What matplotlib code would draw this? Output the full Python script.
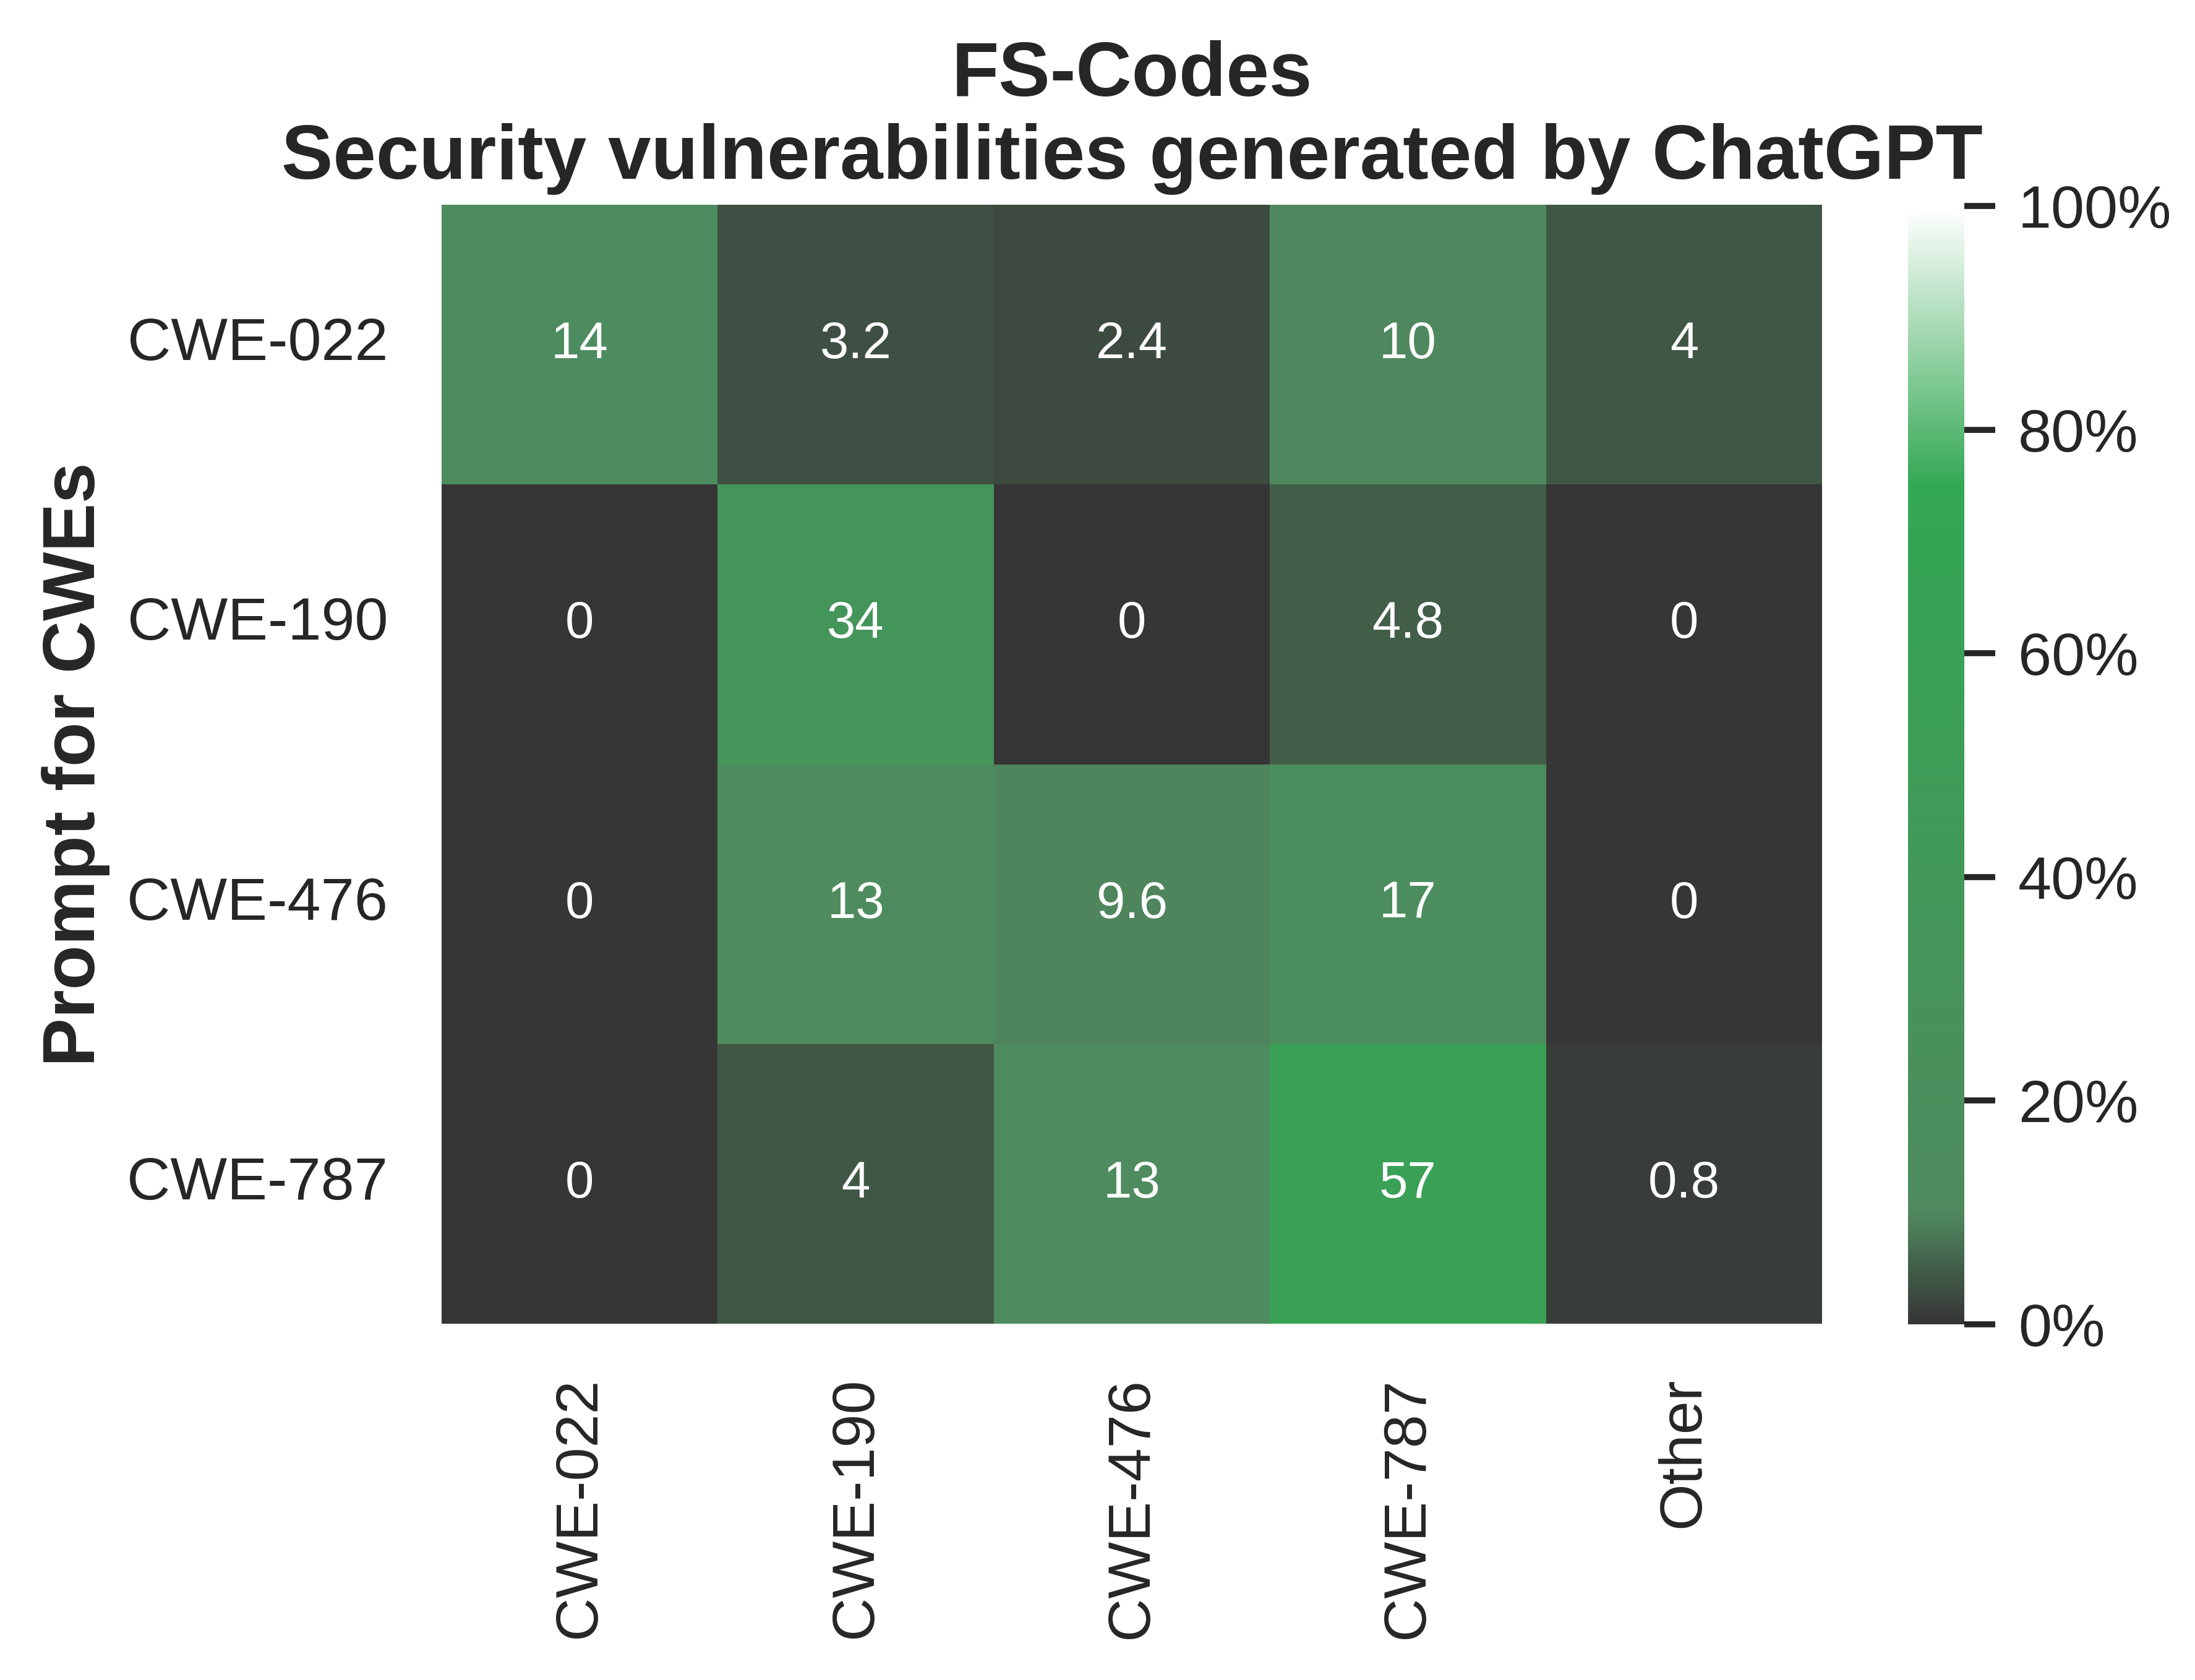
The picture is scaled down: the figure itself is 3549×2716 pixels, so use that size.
import numpy as np
import pandas as pd
import seaborn as sns
import matplotlib.pyplot as plt
from matplotlib.colors import LinearSegmentedColormap

# prompt CWE (rows) vs detected CWE (columns), in percent
prompts = ["CWE-022", "CWE-190", "CWE-476", "CWE-787"]
found = ["CWE-022", "CWE-190", "CWE-476", "CWE-787", "Other"]
row_022 = [14, 3.2, 2.4, 10, 4]
row_190 = [0, 34, 0, 4.8, 0]
row_476 = [0, 13, 9.6, 17, 0]
row_787 = [0, 4, 13, 57, 0.8]
cbar_ticks = [0, 20, 40, 60, 80, 100]

df = pd.DataFrame([row_022, row_190, row_476, row_787], index=prompts, columns=found)

sns.set_theme(style="white")
plt.rcParams['font.family'] = ['Liberation Sans', 'DejaVu Sans']
plt.rcParams['text.color'] = '#262626'
plt.rcParams['axes.labelcolor'] = '#262626'
plt.rcParams['xtick.color'] = '#262626'
plt.rcParams['ytick.color'] = '#262626'

cmap = LinearSegmentedColormap.from_list(
    "grn", [(0.0, "#363636"), (0.10, "#4f8a5f"), (0.75, "#32a852"), (1.0, "#ffffff")])

fig = plt.figure(figsize=(3549 / 500, 2716 / 500), dpi=500)
ax = fig.add_axes([0.2012, 0.2121, 0.6289, 0.666])
cax = fig.add_axes([0.8693, 0.2117, 0.0256, 0.6657])

sns.heatmap(df, ax=ax, cbar_ax=cax, cmap=cmap, vmin=0, vmax=100,
            annot=True, fmt=".2g", annot_kws={"size": 12, "color": "white"},
            cbar_kws={"format": "%.0f%%", "ticks": cbar_ticks})

ax.set_title("FS-Codes\nSecurity vulnerabilities generated by ChatGPT",
             fontsize=18, fontweight="bold", pad=6)
ax.set_ylabel("Prompt for CWEs", fontsize=17, fontweight="bold", labelpad=4)
ax.set_xlabel("")
ax.tick_params(axis="both", length=0, pad=12.5, labelsize=14)
plt.setp(ax.get_xticklabels(), rotation=90)
plt.setp(ax.get_yticklabels(), rotation=0)

cax.tick_params(axis="y", right=True, length=7.2, width=1.4, pad=5.3, labelsize=14,
                color="#262626")
cax.yaxis.set_ticks_position("right")

fig.savefig("out.png", dpi=500)
